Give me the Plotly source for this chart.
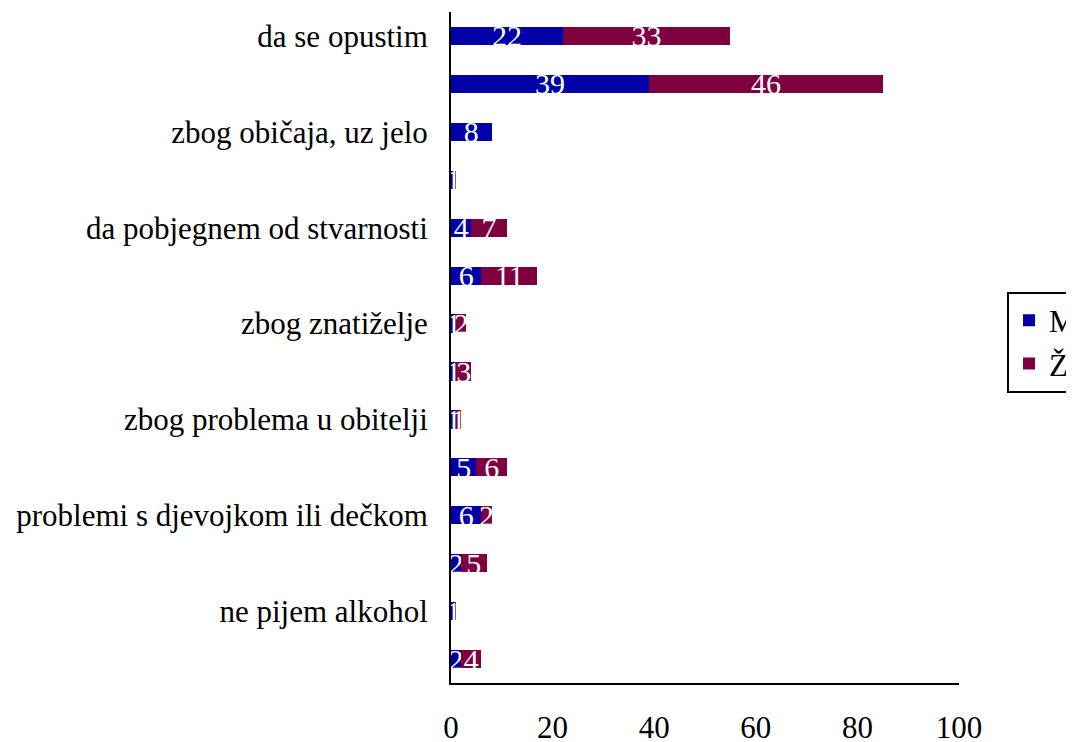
import plotly.graph_objects as go

categories = [
    "da se opustim", "", "zbog običaja, uz jelo", "", "da pobjegnem od stvarnosti", "",
    "zbog znatiželje", "", "zbog problema u obitelji", "", "problemi s djevojkom ili dečkom", "",
    "ne pijem alkohol", "",
]
m_values = [22, 39, 8, 1, 4, 6, 1, 1, 1, 5, 6, 2, 1, 2]
z_values = [33, 46, 0, 0, 7, 11, 2, 3, 1, 6, 2, 5, 0, 4]
x_ticks = [0, 20, 40, 60, 80, 100]

FONT = "Liberation Serif, Times New Roman, serif"
pos = list(range(len(categories)))

fig = go.Figure()
for name, vals, color in [("M", m_values, "#0000A8"), ("Ž", z_values, "#7F0040")]:
    fig.add_trace(go.Bar(
        y=pos, x=vals, name=name, orientation="h",
        marker=dict(color=color, line=dict(width=0)),
        text=[str(v) for v in vals], textposition="inside", textangle=0,
        insidetextanchor="middle", constraintext="none",
        textfont=dict(color="white", size=30, family=FONT),
    ))

fig.update_layout(
    barmode="stack", bargap=0.62,
    width=1074, height=742,
    margin=dict(l=443, r=123, t=4, b=67, autoexpand=False),
    plot_bgcolor="white", paper_bgcolor="white",
    font=dict(family=FONT, size=31, color="black"),
    showlegend=True,
    legend=dict(x=1.0945, y=0.508, xanchor="left", yanchor="middle",
                traceorder="normal",
                bordercolor="black", borderwidth=2, font=dict(size=31),
                itemwidth=30, tracegroupgap=0),
    xaxis=dict(range=[0, 100], tickvals=x_ticks, showgrid=False, zeroline=False,
               showline=True, linecolor="black", linewidth=2, automargin=False,
               ticks="", ticklabelstandoff=16, tickfont=dict(size=31)),
    yaxis=dict(tickvals=pos, ticktext=categories, autorange=False,
               range=[len(categories) - 0.5, -0.5], automargin=False,
               showgrid=False, zeroline=False, showline=True, linecolor="black",
               linewidth=2, ticks="", ticklabelstandoff=15, tickfont=dict(size=31)),
)

fig.write_html("out.html")
